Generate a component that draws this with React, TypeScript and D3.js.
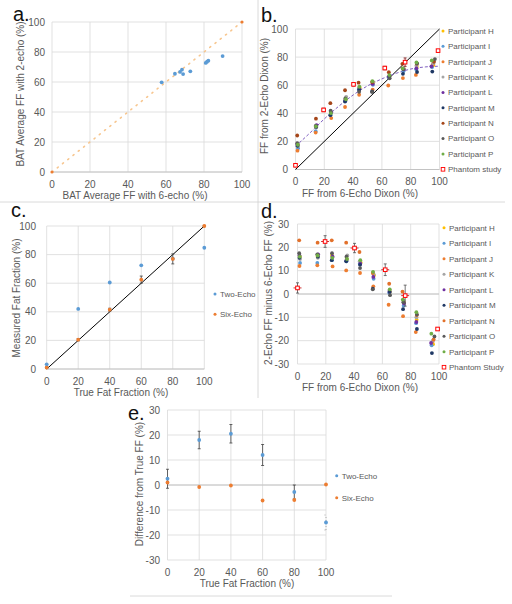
import React from 'react';
import * as d3 from 'd3';

const FONT = '"Liberation Sans", Arial, Helvetica, sans-serif';
const GRID = '#D9D9D9';
const AXIS = '#BFBFBF';
const TXT = '#595959';
const SEP = '#D0D0D0';

const ticks100 = [0, 20, 40, 60, 80, 100];
const ticks30 = [-30, -20, -10, 0, 10, 20, 30];

// ---------- Panel a ----------
const aSixEcho = [57.7, 64.7, 67.4, 68.4, 69.0, 72.8, 80.9, 81.6, 82.3, 89.8];
const aTwoEcho = [59.8, 65.5, 66.7, 68.2, 65.3, 67.1, 72.7, 73.5, 74.2, 77.3];
const aIdentity = [0, 100];

// ---------- Panels b & d ----------
const participantNames = ['Participant H', 'Participant I', 'Participant J', 'Participant K', 'Participant L', 'Participant M', 'Participant N', 'Participant O', 'Participant P'];
const bColors = ['#FFC000', '#5B9BD5', '#ED7D31', '#A5A5A5', '#7030A0', '#1F3864', '#A5461A', '#595959', '#70AD47'];
const dColors = ['#FFC000', '#5B9BD5', '#ED7D31', '#A5A5A5', '#7030A0', '#1F3864', '#E2712B', '#595959', '#70AD47'];

const sixH = [1.6, 14.2, 24.4, 34.8, 44.6, 54.0, 65.2, 75.2, 84.2, 95.8];
const twoH = [17.6, 30.2, 40.9, 49.8, 58.1, 62.0, 66.2, 71.7, 73.2, 74.3];
const sixI = [1.8, 14.0, 24.4, 34.6, 44.0, 53.8, 64.8, 75.0, 83.8, 94.8];
const twoI = [15.1, 27.3, 38.9, 48.6, 57.0, 60.3, 65.3, 70.0, 71.3, 72.8];
const sixJ = [1.4, 14.0, 24.8, 34.4, 44.2, 53.6, 64.4, 74.6, 83.6, 95.4];
const twoJ = [13.4, 26.3, 36.6, 44.5, 53.2, 56.9, 59.8, 65.1, 67.3, 74.9];
const sixK = [1.8, 14.4, 24.6, 35.2, 44.0, 53.8, 65.0, 75.0, 84.0, 95.6];
const twoK = [16.8, 29.9, 40.6, 51.7, 58.0, 62.3, 66.5, 72.0, 74.0, 75.6];
const sixL = [1.4, 14.6, 24.8, 34.6, 44.4, 53.6, 65.0, 75.2, 84.0, 94.4];
const twoL = [17.9, 31.6, 40.8, 49.1, 57.4, 60.9, 66.0, 71.2, 72.0, 73.4];
const sixM = [1.4, 14.4, 24.2, 34.4, 44.2, 53.2, 65.2, 74.6, 84.4, 95.0];
const twoM = [16.9, 30.4, 38.7, 48.4, 56.7, 55.5, 66.1, 68.1, 69.4, 69.7];
const sixN = [1.2, 14.2, 24.2, 34.4, 43.8, 53.2, 64.8, 74.2, 84.3, 96.2];
const twoN = [24.2, 36.2, 47.2, 56.4, 61.8, 62.2, 69.2, 75.2, 75.3, 76.7];
const sixO = [1.2, 14.0, 24.4, 34.6, 44.2, 53.2, 65.4, 74.8, 84.4, 96.8];
const twoO = [18.7, 31.0, 41.9, 50.6, 55.3, 55.2, 64.9, 71.3, 75.6, 78.6];
const sixP = [1.6, 14.2, 24.6, 35.0, 44.4, 53.4, 65.2, 74.4, 84.0, 94.6];
const twoP = [17.6, 30.7, 40.1, 50.0, 58.9, 62.9, 67.2, 72.0, 76.2, 77.6];

const participantSix = [sixH, sixI, sixJ, sixK, sixL, sixM, sixN, sixO, sixP];
const participantTwo = [twoH, twoI, twoJ, twoK, twoL, twoM, twoN, twoO, twoP];

const phantomSix = [0, 19.5, 40.3, 62.0, 76.1, 99.0];
const phantomTwo = [3.0, 42.4, 60.6, 72.2, 76.4, 84.6];
const phantomTwoErr = [1.0, 1.2, 1.2, 1.2, 3.0, 0];
const phantomDiff = [2.6, 22.5, 19.7, 10.4, -0.7, -15.0];
const phantomDiffErr = [2.2, 2.5, 2.0, 2.5, 4.5, 0];

const trendX = [0, 10, 20, 30, 40, 50, 60, 70, 80, 90, 100];
const trendY = [16.5, 26, 36, 45, 53, 59.5, 64.5, 68.5, 71.5, 73, 73.5];

// ---------- Panels c & e ----------
const trueFF = [0, 20, 40, 60, 80, 100];
const cTwoEcho = [3.3, 42.0, 60.5, 72.5, 77.2, 84.8];
const cSixEcho = [1.0, 20.5, 41.5, 62.5, 77.0, 100];
const cSixErr = [0.6, 0.8, 1.0, 2.5, 3.5, 0.4];
const eTwoEcho = [2.5, 18.0, 20.5, 12.0, -2.8, -15.0];
const eTwoErr = [3.8, 3.5, 3.7, 4.2, 2.8, 3.0];
const eSixEcho = [1.0, -0.8, -0.2, -6.2, -6.0, 0.2];

const BLUE = '#5B9BD5';
const ORANGE = '#ED7D31';

type Scale = d3.ScaleLinear<number, number>;

function Frame(p: {
  xs: Scale; ys: Scale; xTicks: number[]; yTicks: number[]; yLabelX: number;
  xTitle: string; xTitleX: number; yTitle: string; yTitleX: number; yTitleY: number; axisAt: number;
}) {
  const [x0, x1] = p.xs.range();
  const [yb, yt] = p.ys.range();
  return (
    <g fontFamily={FONT} fill={TXT}>
      {p.xTicks.map(t => <line key={'gx' + t} x1={p.xs(t)} x2={p.xs(t)} y1={yb} y2={yt} stroke={GRID} strokeWidth={0.8} />)}
      {p.yTicks.map(t => <line key={'gy' + t} x1={x0} x2={x1} y1={p.ys(t)} y2={p.ys(t)} stroke={GRID} strokeWidth={0.8} />)}
      <line x1={x0} x2={x1} y1={p.ys(p.axisAt)} y2={p.ys(p.axisAt)} stroke={AXIS} strokeWidth={0.9} />
      {p.yTicks.map(t => <text key={'ly' + t} x={p.yLabelX} y={p.ys(t)} dy="0.35em" textAnchor="end" fontSize={10}>{t}</text>)}
      {p.xTicks.map(t => <text key={'lx' + t} x={p.xs(t)} y={yb + 15.5} textAnchor="middle" fontSize={10}>{t}</text>)}
      <text x={p.xTitleX} y={yb + 27} textAnchor="middle" fontSize={10}>{p.xTitle}</text>
      <text transform={`translate(${p.yTitleX},${p.yTitleY}) rotate(-90)`} textAnchor="middle" dy="0.35em" fontSize={10}>{p.yTitle}</text>
    </g>
  );
}

function ErrBar({ x, y1, y2, color = '#404040', dash }: { x: number; y1: number; y2: number; color?: string; dash?: string }) {
  return (
    <g stroke={color} strokeWidth={0.8} strokeDasharray={dash}>
      <line x1={x} x2={x} y1={y1} y2={y2} />
      <line x1={x - 1.5} x2={x + 1.5} y1={y1} y2={y1} />
      <line x1={x - 1.5} x2={x + 1.5} y1={y2} y2={y2} />
    </g>
  );
}

function Dot({ x, y, c, r = 1.9 }: { x: number; y: number; c: string; r?: number }) {
  return <circle cx={x} cy={y} r={r} fill={c} />;
}

function Square({ x, y }: { x: number; y: number }) {
  return <rect x={x - 1.8} y={y - 1.8} width={3.6} height={3.6} fill="#fff" stroke="#FF0000" strokeWidth={1} />;
}

function LegendRow({ x, y, label, c, square }: { x: number; y: number; label: string; c: string; square?: boolean }) {
  return (
    <g>
      {square ? <rect x={x - 1.8} y={y - 1.8} width={3.6} height={3.6} fill="#fff" stroke="#FF0000" strokeWidth={0.9} /> : <circle cx={x} cy={y} r={1.5} fill={c} />}
      <text x={x + 5} y={y} dy="0.35em" fontSize={8} fill={TXT} fontFamily={FONT}>{label}</text>
    </g>
  );
}

function PanelLabel({ x, y, t }: { x: number; y: number; t: string }) {
  return <text x={x} y={y} fontSize={20} fontFamily={FONT} fill="#111">{t}</text>;
}

export default function App() {
  // Panel a
  const axs = d3.scaleLinear().domain([0, 100]).range([52, 242]);
  const ays = d3.scaleLinear().domain([0, 100]).range([172, 22]);
  // Panel b
  const bxs = d3.scaleLinear().domain([0, 100]).range([295.5, 439.5]);
  const bys = d3.scaleLinear().domain([0, 100]).range([169.5, 29]);
  // Panel c
  const cxs = d3.scaleLinear().domain([0, 100]).range([46.7, 204.3]);
  const cys = d3.scaleLinear().domain([0, 100]).range([369, 226]);
  // Panel d
  const dxs = d3.scaleLinear().domain([0, 100]).range([297.5, 439]);
  const dys = d3.scaleLinear().domain([-30, 30]).range([364, 224]);
  // Panel e
  const exs = d3.scaleLinear().domain([0, 100]).range([167.5, 326]);
  const eys = d3.scaleLinear().domain([-30, 30]).range([560, 410]);

  const trendLine = d3.line<number>().x((_, i) => bxs(trendX[i])).y(v => bys(v)).curve(d3.curveMonotoneX)(trendY) || '';

  return (
    <svg width={512} height={604} style={{ position: 'absolute', left: 0, top: 0, background: '#fff' }}>
      <rect width={512} height={604} fill="#fff" />
      {/* separators */}
      <line x1={258} x2={258} y1={0} y2={398} stroke={SEP} strokeWidth={0.8} />
      <line x1={0} x2={505} y1={202} y2={202} stroke={SEP} strokeWidth={0.8} />
      <line x1={130} x2={392} y1={596} y2={596} stroke={SEP} strokeWidth={0.8} />

      {/* Panel a */}
      <Frame xs={axs} ys={ays} xTicks={ticks100} yTicks={ticks100} yLabelX={45} axisAt={0}
        xTitle="BAT Average FF with 6-echo (%)" xTitleX={135} yTitle="BAT Average FF with 2-echo (%)" yTitleX={20} yTitleY={94} />
      <line x1={axs(aIdentity[0])} y1={ays(aIdentity[0])} x2={axs(aIdentity[1])} y2={ays(aIdentity[1])}
        stroke="#F7C68F" strokeWidth={1.6} strokeDasharray="1.2 5.5" strokeLinecap="round" />
      {aIdentity.map((v, i) => <Dot key={'ai' + i} x={axs(v)} y={ays(v)} c={ORANGE} r={1.6} />)}
      {aSixEcho.map((v, i) => <Dot key={'a' + i} x={axs(v)} y={ays(aTwoEcho[i])} c={BLUE} />)}
      <PanelLabel x={13} y={21} t="a." />

      {/* Panel b */}
      <Frame xs={bxs} ys={bys} xTicks={ticks100} yTicks={ticks100} yLabelX={288} axisAt={0}
        xTitle="FF from 6-Echo Dixon (%)" xTitleX={360} yTitle="FF from 2-Echo Dixon (%)" yTitleX={264} yTitleY={96} />
      <line x1={bxs(0)} y1={bys(0)} x2={bxs(100)} y2={bys(100)} stroke="#000" strokeWidth={1} />
      <path d={trendLine} fill="none" stroke="#7F5FC0" strokeWidth={1} strokeDasharray="3 2" />
      {participantSix.map((xsArr, p) => xsArr.map((v, i) => (
        <Dot key={'b' + p + '-' + i} x={bxs(v)} y={bys(participantTwo[p][i])} c={bColors[p]} />
      )))}
      {phantomSix.map((v, i) => phantomTwoErr[i] > 0 ? (
        <ErrBar key={'bpe' + i} x={bxs(v)} y1={bys(phantomTwo[i] - phantomTwoErr[i])} y2={bys(phantomTwo[i] + phantomTwoErr[i])} color="#7B1010" />
      ) : null)}
      {phantomSix.map((v, i) => <Square key={'bp' + i} x={bxs(v)} y={bys(phantomTwo[i])} />)}
      {participantNames.map((n, i) => <LegendRow key={'lb' + i} x={443} y={31 + i * 15.37} label={n} c={bColors[i]} />)}
      <LegendRow x={443} y={31 + 9 * 15.37} label="Phantom study" c="#FF0000" square />
      <PanelLabel x={261} y={22} t="b." />

      {/* Panel c */}
      <Frame xs={cxs} ys={cys} xTicks={ticks100} yTicks={ticks100} yLabelX={36} axisAt={0}
        xTitle="True Fat Fraction (%)" xTitleX={121} yTitle="Measured Fat Fraction (%)" yTitleX={16} yTitleY={298} />
      <line x1={cxs(0)} y1={cys(0)} x2={cxs(100)} y2={cys(100)} stroke="#000" strokeWidth={1} />
      {trueFF.map((v, i) => <Dot key={'ct' + i} x={cxs(v)} y={cys(cTwoEcho[i])} c={BLUE} />)}
      {trueFF.map((v, i) => (
        <ErrBar key={'cse' + i} x={cxs(v)} y1={cys(cSixEcho[i] - cSixErr[i])} y2={cys(cSixEcho[i] + cSixErr[i])} />
      ))}
      {trueFF.map((v, i) => <Dot key={'cs' + i} x={cxs(v)} y={cys(cSixEcho[i])} c={ORANGE} />)}
      <LegendRow x={215} y={294} label="Two-Echo" c={BLUE} />
      <LegendRow x={215} y={314.3} label="Six-Echo" c={ORANGE} />
      <PanelLabel x={11} y={217} t="c." />

      {/* Panel d */}
      <Frame xs={dxs} ys={dys} xTicks={ticks100} yTicks={ticks30} yLabelX={289} axisAt={0}
        xTitle="FF from 6-Echo Dixon (%)" xTitleX={360} yTitle="2-Echo FF minus 6-Echo FF (%)" yTitleX={268} yTitleY={293} />
      {participantSix.map((xsArr, p) => xsArr.map((v, i) => (
        <Dot key={'d' + p + '-' + i} x={dxs(v)} y={dys(participantTwo[p][i] - v)} c={dColors[p]} />
      )))}
      {phantomSix.map((v, i) => phantomDiffErr[i] > 0 ? (
        <ErrBar key={'dpe' + i} x={dxs(v)} y1={dys(phantomDiff[i] - phantomDiffErr[i])} y2={dys(phantomDiff[i] + phantomDiffErr[i])} color="#505050" />
      ) : null)}
      {phantomSix.map((v, i) => phantomDiffErr[i] > 0 ? (
        <line key={'dph' + i} x1={dxs(v) - 4} x2={dxs(v) + 4} y1={dys(phantomDiff[i])} y2={dys(phantomDiff[i])} stroke="#C00000" strokeWidth={0.8} />
      ) : null)}
      {phantomSix.map((v, i) => <Square key={'dp' + i} x={dxs(v)} y={dys(phantomDiff[i])} />)}
      {participantNames.map((n, i) => <LegendRow key={'ld' + i} x={444} y={227.7 + i * 15.5} label={n} c={dColors[i]} />)}
      <LegendRow x={444} y={227.7 + 9 * 15.5} label="Phantom Study" c="#FF0000" square />
      <PanelLabel x={261} y={218} t="d." />

      {/* Panel e */}
      <Frame xs={exs} ys={eys} xTicks={ticks100} yTicks={ticks30} yLabelX={160} axisAt={0}
        xTitle="True Fat Fraction (%)" xTitleX={247} yTitle="Difference from True FF (%)" yTitleX={139} yTitleY={484} />
      {trueFF.map((v, i) => (
        <ErrBar key={'ete' + i} x={exs(v)} y1={eys(eTwoEcho[i] - eTwoErr[i])} y2={eys(eTwoEcho[i] + eTwoErr[i])}
          color={i === 5 ? '#9A9A9A' : '#404040'} dash={i === 5 ? '1 2' : undefined} />
      ))}
      {trueFF.map((v, i) => <Dot key={'et' + i} x={exs(v)} y={eys(eTwoEcho[i])} c={BLUE} />)}
      {trueFF.map((v, i) => <Dot key={'es' + i} x={exs(v)} y={eys(eSixEcho[i])} c={ORANGE} />)}
      <LegendRow x={336.7} y={475.7} label="Two-Echo" c={BLUE} />
      <LegendRow x={336.7} y={497.7} label="Six-Echo" c={ORANGE} />
      <PanelLabel x={128} y={420} t="e." />
    </svg>
  );
}
